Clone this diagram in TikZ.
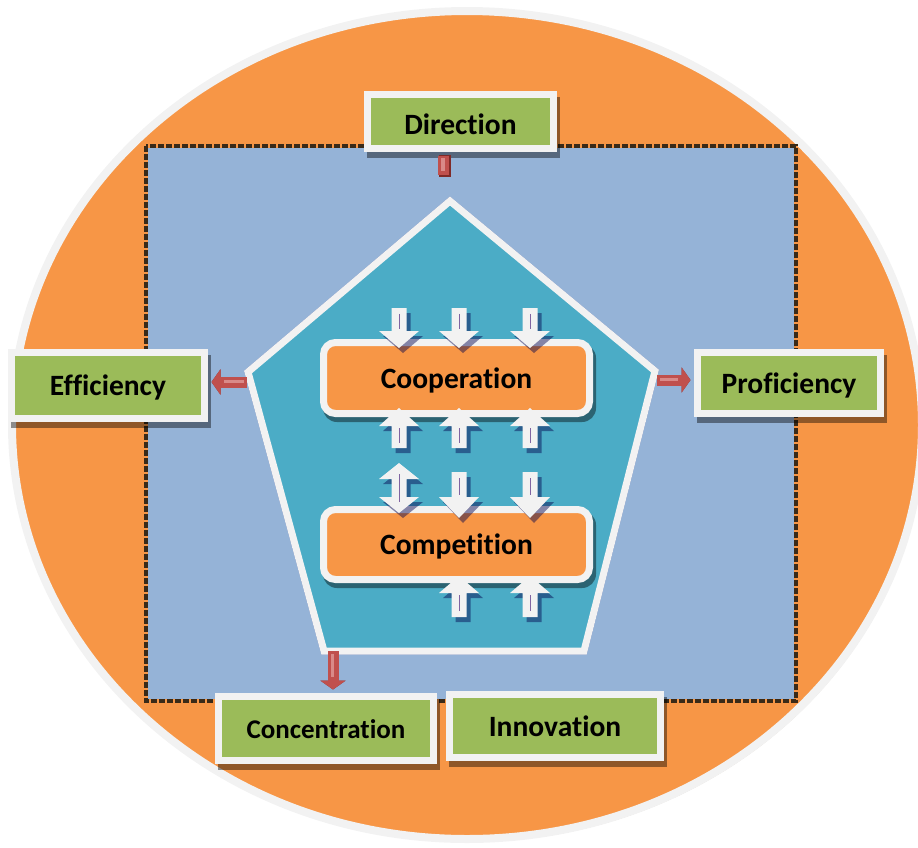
\documentclass[tikz,border=0pt]{standalone}
\usepackage{fontspec}
\setmainfont[Ligatures=NoCommon]{Carlito}
\usetikzlibrary{arrows.meta}
\definecolor{orng}{HTML}{F79646}
\definecolor{bluebg}{HTML}{95B3D7}
\definecolor{pentf}{HTML}{4BACC6}
\definecolor{grn}{HTML}{9BBB59}
\definecolor{wb}{HTML}{F2F2F2}
\definecolor{redar}{HTML}{C0504D}
\definecolor{redsh}{HTML}{7F2A28}
\definecolor{redhi}{HTML}{D98A88}
\definecolor{purp}{HTML}{8064A2}
\definecolor{hatchc}{HTML}{3A2A18}
\definecolor{ellsh}{HTML}{C9A27E}
\tikzset{
  lbl/.style={draw=wb, line width=7pt, fill=grn, inner sep=0pt,
    text height=22pt, text depth=2pt,
    font=\fontsize{29.5}{34}\selectfont\bfseries},
  rbox/.style={draw=wb, line width=7pt, fill=orng, inner sep=0pt, rounded corners=12pt,
    text height=22pt, text depth=2pt,
    font=\fontsize{29.5}{34}\selectfont\bfseries},
  shd/.style={fill=black, opacity=.42},
  warrow/.style={fill=wb},
  wshadow/.style={fill=black!70!blue, opacity=.45},
  wline/.style={draw=purp, line width=1pt},
  redarr/.style={draw=redar, line width=11pt, -{Triangle[length=9pt,width=25pt]}},
  redarrsh/.style={draw=redsh, line width=11pt, -{Triangle[length=9pt,width=25pt]}},
}
% label box: [extra options], name, cx, cy, outer w, outer h, text
\newcommand\lbox[7][]{%
  \fill[shd] (#3-#5/2+3,#4-#6/2+6) rectangle (#3+#5/2+3,#4+#6/2+6);
  \node[lbl, minimum width=#5-7, minimum height=#6-7, #1] (#2) at (#3,#4) {#7};}
\newcommand\rlbox[6]{%
  \fill[shd, rounded corners=14pt] (#2-#4/2+3,#3-#5/2+5) rectangle (#2+#4/2+3,#3+#5/2+5);
  \node[rbox, minimum width=#4-7, minimum height=#5-7] (#1) at (#2,#3) {#6};}
% single white block arrow: x, shaft end y, head base y, tip y
\newcommand\warr[4]{%
  \fill[wshadow] (#1-7.5+4,#2+5) -- (#1+7.5+4,#2+5) -- (#1+7.5+4,#3+5) -- (#1+20+4,#3+5) -- (#1+4,#4+5) -- (#1-20+4,#3+5) -- (#1-7.5+4,#3+5) -- cycle;
  \fill[warrow] (#1-7.5,#2) -- (#1+7.5,#2) -- (#1+7.5,#3) -- (#1+20,#3) -- (#1,#4) -- (#1-20,#3) -- (#1-7.5,#3) -- cycle;
  \draw[wline] (#1,{#2+(#3-#2)*0.25}) -- (#1,{#3-(#3-#2)*0.1});}
\begin{document}
\begin{tikzpicture}[x=1pt,y=-1pt]
\useasboundingbox (0,0) rectangle (918,847);
% outer ellipse
\fill[ellsh] (469,428) ellipse [x radius=455, y radius=414];
\draw[wb, line width=8pt, fill=orng] (467,425) ellipse [x radius=455, y radius=414];
% blue square
\fill[bluebg] (148,148) rectangle (794,699);
\draw[hatchc, line width=3.5pt, dash pattern=on 6pt off 2pt] (146,146) rectangle (796,701);
% pentagon
\coordinate (pt) at (450,201);
\coordinate (pr) at (655,371);
\coordinate (pbr) at (584,651);
\coordinate (pbl) at (324,651);
\coordinate (pl) at (248,372);
\filldraw[fill=black!60!blue, draw=black!60!blue, opacity=.35, line width=7pt, shift={(5,7)}] (pt) -- (pr) -- (pbr) -- (pbl) -- (pl) -- cycle;
\filldraw[fill=pentf, draw=wb, line width=7pt, line join=miter] (pt) -- (pr) -- (pbr) -- (pbl) -- (pl) -- cycle;
% inner boxes
\rlbox{coop}{456.5}{378}{273}{78}{Cooperation}
\rlbox{comp}{456.5}{544.5}{273}{77}{Competition}
% white arrows
\warr{399}{308}{331}{348}
\warr{459}{308}{331}{348}
\warr{530}{308}{331}{348}
\warr{399}{448}{426}{408}
\warr{459}{448}{426}{408}
\warr{530}{448}{426}{408}
\warr{459}{472}{497}{518}
\warr{530}{472}{497}{518}
\warr{459}{617}{593}{576}
\warr{530}{617}{593}{576}
% double arrow
\fill[wshadow, shift={(4,5)}] (399,463) -- (419,479) -- (406.5,479) -- (406.5,497) -- (419,497) -- (399,513) -- (379,497) -- (391.5,497) -- (391.5,479) -- (379,479) -- cycle;
\fill[warrow] (399,463) -- (419,479) -- (406.5,479) -- (406.5,497) -- (419,497) -- (399,513) -- (379,497) -- (391.5,497) -- (391.5,479) -- (379,479) -- cycle;
\draw[wline] (399,474) -- (399,502);
% outer label boxes
\lbox[text height=27pt]{dir}{460.5}{121.5}{193}{61}{Direction}
\lbox{eff}{108}{385.5}{200}{73}{Efficiency}
\lbox{prof}{789}{383}{190}{68}{Proficiency}
\lbox[font=\fontsize{27}{31}\selectfont\bfseries]{conc}{326}{728.5}{222}{71}{Concentration}
\lbox{inno}{555}{726}{218}{70}{Innovation}
% red connectors
\coordinate (ds) at (443,177);
\coordinate (ea) at (247,382);
\coordinate (pa) at (657,380);
\coordinate (ca) at (333,651);
\draw[redsh, line width=12pt] ([xshift=2pt,yshift=-3pt]ds |- dir.south) -- ([xshift=2pt]ds);
\draw[redar, line width=11pt] ([yshift=-3.5pt]ds |- dir.south) -- ([yshift=2pt]ds);
\draw[redhi, line width=4pt] ([yshift=-6pt]ds |- dir.south) -- ([yshift=6pt]ds);
\draw[redarrsh, shift={(1,3)}] (ea) -- ([xshift=3.5pt]ea -| eff.east);
\draw[redarr] (ea) -- ([xshift=3.5pt]ea -| eff.east);
\draw[redhi, line width=3pt] ([xshift=-3pt,yshift=1pt]ea) -- ([xshift=16pt,yshift=1pt]ea -| eff.east);
\draw[redarrsh, shift={(1,3)}] (pa) -- ([xshift=-3.5pt]pa -| prof.west);
\draw[redarr] (pa) -- ([xshift=-3.5pt]pa -| prof.west);
\draw[redhi, line width=3pt] ([xshift=3pt,yshift=1pt]pa) -- ([xshift=-16pt,yshift=1pt]pa -| prof.west);
\draw[redarrsh, shift={(2,1)}] (ca) -- ([yshift=3.5pt]ca |- conc.north);
\draw[redarr] (ca) -- ([yshift=3.5pt]ca |- conc.north);
\draw[redhi, line width=3pt] ([xshift=-1pt,yshift=-3pt]ca) -- ([xshift=-1pt,yshift=16pt]ca |- conc.north);
\end{tikzpicture}
\end{document}
